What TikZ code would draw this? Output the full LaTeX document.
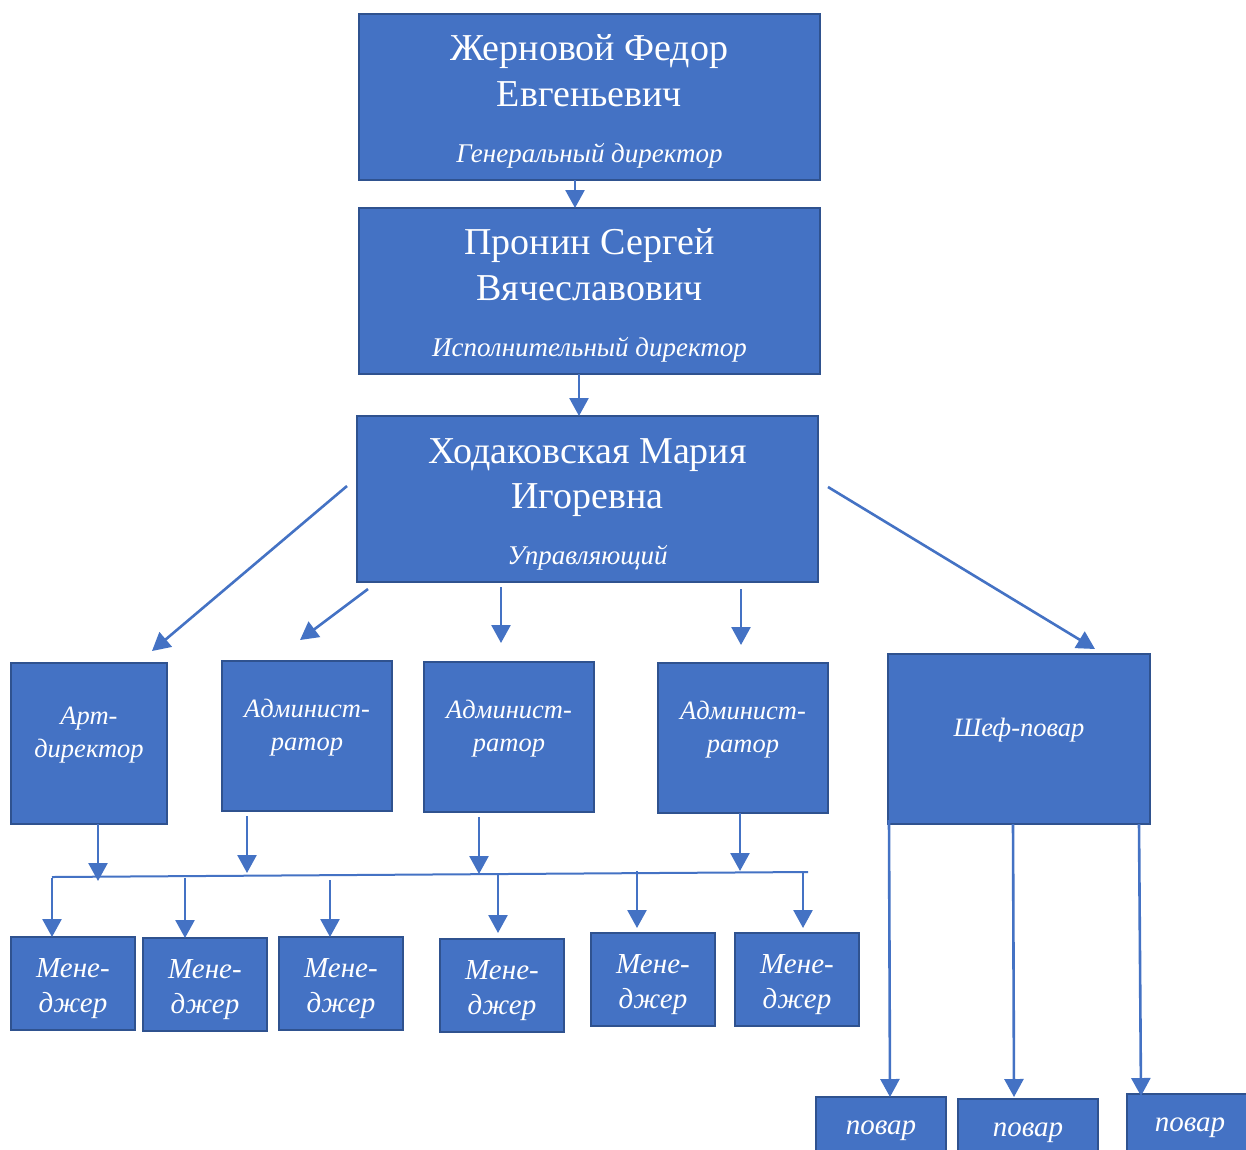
\documentclass[tikz,border=0pt]{standalone}
\usepackage{fontspec}
\setmainfont{Liberation Serif}
\usetikzlibrary{arrows.meta}
\definecolor{boxfill}{HTML}{4472C4}
\definecolor{boxline}{HTML}{2F528F}
\begin{document}
\begin{tikzpicture}[x=1pt,y=-1pt,
  box/.style={draw=boxline, fill=boxfill, line width=2.4pt, inner sep=0pt, outer sep=0pt, rectangle},
  big/.style={text=white, inner sep=0pt, anchor=base, font=\fontsize{38}{46}\selectfont},
  role/.style={text=white, inner sep=0pt, anchor=base, font=\fontsize{27}{30}\selectfont\itshape},
  mid/.style={text=white, inner sep=0pt, anchor=base, font=\fontsize{26.5}{30}\selectfont\itshape},
  mgr/.style={text=white, inner sep=0pt, anchor=base, font=\fontsize{29}{34}\selectfont\itshape},
  cook/.style={text=white, inner sep=0pt, anchor=base, font=\fontsize{29}{30}\selectfont\itshape},
  conn/.style={draw=boxfill, line width=2.6pt, -{Triangle[width=19pt,length=18pt]}},
  bar/.style={draw=boxfill, line width=2pt}]
\useasboundingbox (0,0) rectangle (1246,1149);
\clip (0,0) rectangle (1246,1149);
\fill[white] (0,0) rectangle (1246,1149);

% top boxes
\node[box, minimum width=461pt, minimum height=166pt] (B1) at (589.5,97) {};
\node[big] (B1a) at (589.5,60) {Жерновой Федор};
\node[big] (B1b) at (589.5,106) {Евгеньевич};
\node[role] (B1c) at (589.5,162) {Генеральный директор};

\node[box, minimum width=461pt, minimum height=166pt] (B2) at (589.5,291) {};
\node[big] (B2a) at (589.5,254) {Пронин Сергей};
\node[big] (B2b) at (589.5,300) {Вячеславович};
\node[role] (B2c) at (589.5,356) {Исполнительный директор};

\node[box, minimum width=461pt, minimum height=166pt] (B3) at (587.5,499) {};
\node[big] (B3a) at (587.5,463) {Ходаковская Мария};
\node[big] (B3b) at (587.5,508) {Игоревна};
\node[role] (B3c) at (587.5,564) {Управляющий};

% second level
\node[box, minimum width=156pt, minimum height=161pt] (Art) at (89,743.5) {};
\node[mid] (Arta) at (89,724) {Арт-};
\node[mid] (Artb) at (89,757) {директор};

\node[box, minimum width=170pt, minimum height=150pt] (A1) at (307,736) {};
\node[mid] (A1a) at (307,717) {Админист-};
\node[mid] (A1b) at (307,750) {ратор};

\node[box, minimum width=170pt, minimum height=150pt] (A2) at (509,737) {};
\node[mid] (A2a) at (509,718) {Админист-};
\node[mid] (A2b) at (509,751) {ратор};

\node[box, minimum width=170pt, minimum height=150pt] (A3) at (743,738) {};
\node[mid] (A3a) at (743,719) {Админист-};
\node[mid] (A3b) at (743,752) {ратор};

\node[box, minimum width=262pt, minimum height=170pt] (Chef) at (1019,739) {};
\node[mid] (Chefa) at (1019,736) {Шеф-повар};

% managers
\node[box, minimum width=124pt, minimum height=93pt] (M1) at (73,983.5) {};
\node[mgr] (M1a) at (73,977) {Мене-};
\node[mgr] (M1b) at (73,1012) {джер};
\node[box, minimum width=124pt, minimum height=93pt] (M2) at (205,984.5) {};
\node[mgr] (M2a) at (205,978) {Мене-};
\node[mgr] (M2b) at (205,1013) {джер};
\node[box, minimum width=124pt, minimum height=93pt] (M3) at (341,983.5) {};
\node[mgr] (M3a) at (341,977) {Мене-};
\node[mgr] (M3b) at (341,1012) {джер};
\node[box, minimum width=124pt, minimum height=93pt] (M4) at (502,985.5) {};
\node[mgr] (M4a) at (502,979) {Мене-};
\node[mgr] (M4b) at (502,1014) {джер};
\node[box, minimum width=124pt, minimum height=93pt] (M5) at (653,979.5) {};
\node[mgr] (M5a) at (653,973) {Мене-};
\node[mgr] (M5b) at (653,1008) {джер};
\node[box, minimum width=124pt, minimum height=93pt] (M6) at (797,979.5) {};
\node[mgr] (M6a) at (797,973) {Мене-};
\node[mgr] (M6b) at (797,1008) {джер};

% cooks
\node[box, minimum width=130pt, minimum height=73pt] (P1) at (881,1133.5) {};
\node[cook] (P1a) at (881,1134) {повар};
\node[box, minimum width=140pt, minimum height=73pt] (P2) at (1028,1135.5) {};
\node[cook] (P2a) at (1028,1136) {повар};
\node[box, minimum width=123pt, minimum height=73pt] (P3) at (1188.5,1130.5) {};
\node[cook] (P3a) at (1190,1131) {повар};

% top connectors
\draw[conn] ([xshift=-14.5pt]B1.south) -- ([xshift=-14.5pt]B1.south |- B2.north);
\draw[conn] ([xshift=-10.5pt]B2.south) -- ([xshift=-10.5pt]B2.south |- B3.north);

% from manager box (free-standing arrows)
\coordinate (s1) at (347,486);  \coordinate (e1) at (152,651);
\coordinate (s2) at (368,589);  \coordinate (e2) at (300,640);
\coordinate (s3) at (501,587);  \coordinate (e3) at (501,643);
\coordinate (s4) at (741,589);  \coordinate (e4) at (741,645);
\coordinate (s5) at (828,487);  \coordinate (e5) at (1095,649);
\draw[conn] (s1) -- (e1);
\draw[conn] (s2) -- (e2);
\draw[conn] (s3) -- (e3);
\draw[conn] (s4) -- (e4);
\draw[conn] (s5) -- (e5);

% horizontal bar
\coordinate (hl) at (52,877);
\coordinate (hr) at (808,872);
\draw[bar] (hl) -- (hr);

% second level down to bar
\coordinate (d1) at (98,881);
\coordinate (d2) at (247,873);
\coordinate (d3) at (479,874);
\coordinate (d4) at (740,871);
\draw[conn] (Art.south -| d1) -- (d1);
\draw[conn] ([yshift=-5pt]A1.south -| d2) -- (d2);
\draw[conn] ([yshift=-5pt]A2.south -| d3) -- (d3);
\draw[conn] (A3.south -| d4) -- (d4);

% bar to managers
\coordinate (u1) at (52,878);
\coordinate (u2) at (185,878);
\coordinate (u3) at (330,880);
\coordinate (u4) at (498,875);
\coordinate (u5) at (637,871);
\coordinate (u6) at (803,871);
\draw[conn] (u1) -- (u1 |- M1.north);
\draw[conn] (u2) -- (u2 |- M2.north);
\draw[conn] (u3) -- (u3 |- M3.north);
\draw[conn] (u4) -- ([yshift=6pt]u4 |- M4.north);
\draw[conn] (u5) -- ([yshift=5pt]u5 |- M5.north);
\draw[conn] (u6) -- ([yshift=5pt]u6 |- M6.north);

% chef to cooks
\coordinate (c1) at (889,820);
\coordinate (c2) at (1013,824);
\coordinate (c3) at (1139,824);
\draw[conn] (c1) -- ([xshift=9pt]P1.north);
\draw[conn] (c2) -- ([xshift=-14pt,yshift=2pt]P2.north);
\draw[conn] (c3) -- ([xshift=-47.5pt,yshift=-2pt]P3.north);
\end{tikzpicture}
\end{document}
